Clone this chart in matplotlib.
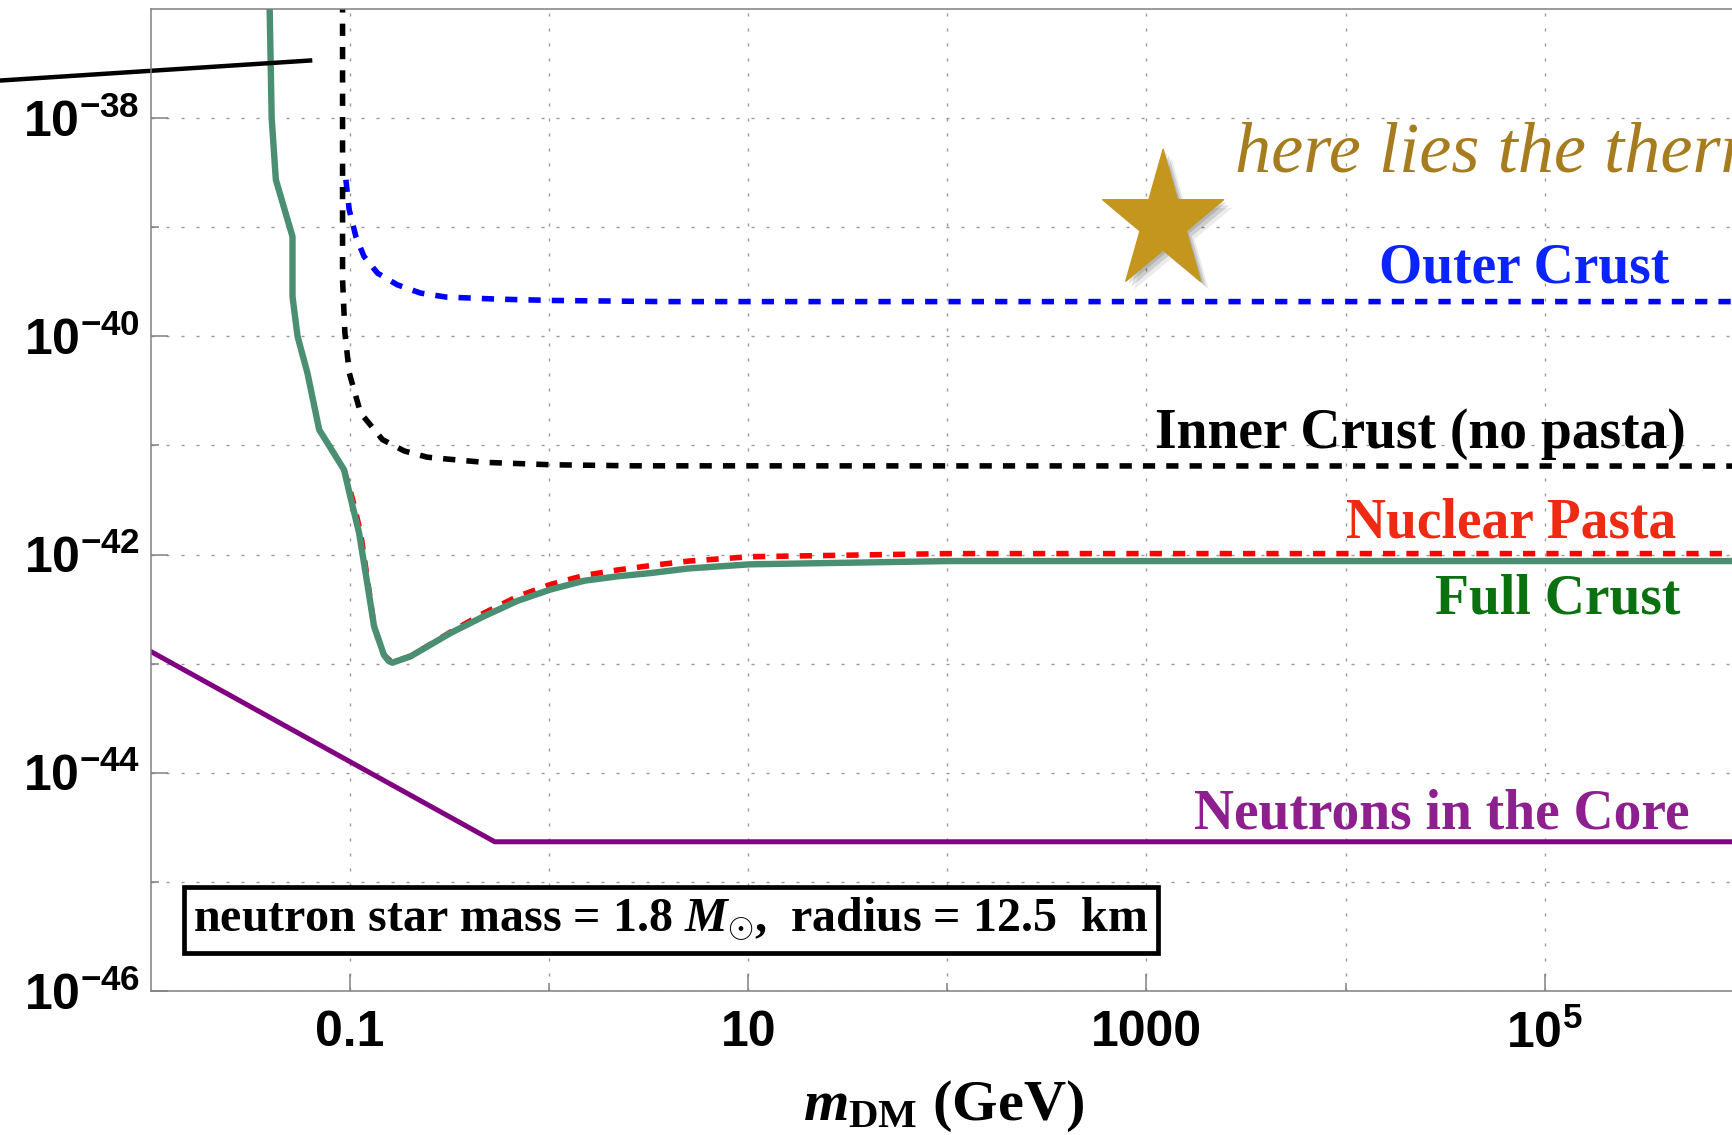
import matplotlib
matplotlib.use("Agg")
import matplotlib.pyplot as plt
import matplotlib.patheffects as pe
from matplotlib.path import Path
from matplotlib.ticker import NullFormatter
import numpy as np

# --- curves: m_DM (GeV) vs cross section (cm^2) ---
full_m = [0.0394, 0.0404, 0.0424, 0.0514, 0.0514, 0.0545, 0.0611, 0.0700, 0.0771,
          0.0933, 0.101, 0.111, 0.122, 0.132, 0.148, 0.156, 0.163, 0.202, 0.320, 0.469,
          0.693, 1.02, 1.50, 2.20, 3.23, 5.0, 10.2, 102, 1e7]
full_sigma = [1.2e-37, 1.0e-38, 2.72e-39, 8.2e-40, 2.32e-40, 9.98e-41, 4.6e-41,
              1.39e-41, 1.05e-41, 5.98e-42, 3.21e-42, 1.58e-42, 5.46e-43, 2.20e-43,
              1.20e-43, 1.06e-43, 1.02e-43, 1.17e-43, 1.91e-43, 2.71e-43, 3.76e-43,
              4.79e-43, 5.75e-43, 6.31e-43, 6.76e-43, 7.45e-43, 8.13e-43, 8.71e-43,
              8.71e-43]

pasta_m = [0.0933, 0.103, 0.113, 0.123, 0.132, 0.148, 0.163, 0.202, 0.320, 0.469,
           0.693, 1.02, 1.50, 2.20, 3.23, 5.0, 10.2, 102, 1e7]
pasta_sigma = [5.98e-42, 3.21e-42, 1.58e-42, 5.46e-43, 2.20e-43, 1.20e-43, 1.02e-43,
               1.17e-43, 1.95e-43, 2.90e-43, 4.12e-43, 5.33e-43, 6.43e-43, 7.21e-43,
               7.92e-43, 8.7e-43, 9.55e-43, 1.02e-42, 1.02e-42]

inner_m = [0.0917, 0.0917, 0.0917, 0.0942, 0.0991, 0.113, 0.1455, 0.187, 0.244,
           0.333, 0.469, 1.02, 2.67, 1e7]
inner_sigma = [1.2e-37, 1.0e-38, 3.3e-40, 1.08e-40, 4.61e-41, 1.98e-41, 1.13e-41,
               8.9e-42, 7.8e-42, 7.4e-42, 7.0e-42, 6.65e-42, 6.5e-42, 6.46e-42]

outer_m = [0.0953, 0.099, 0.107, 0.1175, 0.1374, 0.173, 0.226, 0.303, 0.555,
           1.05, 3.77, 1e7]
outer_sigma = [2.72e-39, 1.45e-39, 8.2e-40, 5.4e-40, 3.79e-40, 2.96e-40, 2.49e-40,
               2.29e-40, 2.19e-40, 2.13e-40, 2.08e-40, 2.08e-40]

core_m = [0.01, 0.533, 1e7]
core_sigma = [1.29e-43, 2.33e-45, 2.33e-45]

# piece of another curve entering from the left
edge_m = [1.76e-3, 0.063]
edge_sigma = [2.21e-38, 3.37e-38]

star_m = [1213]
star_sigma = [1.11e-39]

xticks = [0.1, 10, 1000, 1e5]
xticklabels = ['0.1', '10', '1000', r'$\mathsf{10^{5}}$']
yticks = [1e-46, 1e-44, 1e-42, 1e-40, 1e-38]
yticklabels = [r'$\mathsf{10^{-46}}$', r'$\mathsf{10^{-44}}$', r'$\mathsf{10^{-42}}$',
               r'$\mathsf{10^{-40}}$', r'$\mathsf{10^{-38}}$']

plt.rcParams['font.family'] = 'Liberation Serif'
plt.rcParams['mathtext.fontset'] = 'custom'
plt.rcParams['mathtext.rm'] = 'Liberation Serif:bold'
plt.rcParams['mathtext.it'] = 'Liberation Serif:italic:bold'
plt.rcParams['mathtext.bf'] = 'Liberation Serif:bold'
plt.rcParams['mathtext.sf'] = 'Liberation Sans:bold'

fig = plt.figure(figsize=(17.33, 11.35), dpi=100)
# axes run past the right edge of the picture (as in the cropped original)
ax = fig.add_axes([0.0871, 0.1269, 1.034, 0.8652])
ax.set_xscale('log')
ax.set_yscale('log')
ax.set_xlim(1e-2, 1e7)
ax.set_ylim(1e-46, 1e-37)

dash = (0, (2.2, 2.0))
ax.plot(core_m, core_sigma, color='#800080', lw=3.6)
ax.plot(outer_m, outer_sigma, color='#0000ff', lw=4.0, ls=dash)
ax.plot(inner_m, inner_sigma, color='black', lw=4.0, ls=dash)
ax.plot(pasta_m, pasta_sigma, color='#ff0000', lw=4.0, ls=dash)
ax.plot(full_m, full_sigma, color='#4b8f73', lw=4.6)
ax.plot(edge_m, edge_sigma, color='black', lw=3.2, clip_on=False)

# star marker, slightly taller than wide
ang = np.pi / 2 + np.arange(10) * np.pi / 5
rad = np.where(np.arange(10) % 2 == 0, 1.0, 0.382)
verts = np.column_stack([rad * np.cos(ang), 1.147 * rad * np.sin(ang)])
verts = np.vstack([verts, verts[:1]])
star = Path(verts, closed=True)
ax.plot(star_m, star_sigma, ls='none', marker=star, ms=105, color='#c4961e',
        mec='#c4961e', zorder=5,
        path_effects=[pe.SimplePatchShadow(offset=(2, -2), shadow_rgbFace='k', alpha=0.12),
                      pe.SimplePatchShadow(offset=(4, -4), shadow_rgbFace='k', alpha=0.12),
                      pe.SimplePatchShadow(offset=(6, -6), shadow_rgbFace='k', alpha=0.08),
                      pe.Normal()])

# ticks and grid
ax.set_xticks(xticks, xticklabels, fontfamily='Liberation Sans', fontweight='bold', fontsize=36)
ax.set_xticks([1, 100, 1e4, 1e6], minor=True)
ax.xaxis.set_minor_formatter(NullFormatter())
ax.set_yticks(yticks, yticklabels, fontsize=36)
ax.set_yticks([1e-45, 1e-43, 1e-41, 1e-39], minor=True)
ax.yaxis.set_minor_formatter(NullFormatter())
ax.tick_params(axis='x', which='major', pad=14)
ax.tick_params(axis='y', which='major', pad=8)
ax.tick_params(which='major', direction='in', length=12, width=1.1, color='#808080')
ax.tick_params(which='minor', direction='in', length=6, width=1.1, color='#808080')
ax.grid(True, which='both', color='#9a9a9a', lw=1.0, ls=(0, (2.2, 8.6)))
for s in ax.spines.values():
    s.set_color('#808080')
    s.set_linewidth(1.1)

# labels on the curves
ax.text(10**3.445, 10**-38.486, 'here lies the therm', ha='left', va='baseline',
        color='#a67c1e', fontsize=52, style='italic')
ax.text(10**5.626, 10**-39.509, 'Outer Crust', ha='right', va='baseline',
        color='#0b24fb', fontsize=40, fontweight='bold')
ax.text(10**5.709, 10**-41.018, 'Inner Crust (no pasta)', ha='right', va='baseline',
        color='black', fontsize=40, fontweight='bold')
ax.text(10**5.659, 10**-41.848, 'Nuclear Pasta', ha='right', va='baseline',
        color='#ee2a14', fontsize=40, fontweight='bold')
ax.text(10**5.681, 10**-42.537, 'Full Crust', ha='right', va='baseline',
        color='#0b7010', fontsize=40, fontweight='bold')
ax.text(10**5.726, 10**-44.511, 'Neutrons in the Core', ha='right', va='baseline',
        color='#8e1f8e', fontsize=40, fontweight='bold')

fig.text(0.1116, 0.1791, r'neutron star mass = 1.8 $M_{\odot}$,  radius = 12.5  km',
         fontsize=34.6, fontweight='bold', va='baseline',
         bbox=dict(boxstyle='square,pad=0.2', fc='white', ec='black', lw=3.4))

fig.text(0.5447, 0.0136, r'$m_{\mathrm{DM}}$ (GeV)', ha='center', va='baseline',
         fontsize=42, fontweight='bold')

fig.savefig('out.png', dpi=100)
